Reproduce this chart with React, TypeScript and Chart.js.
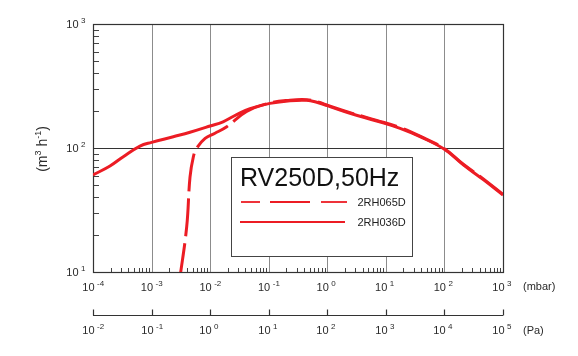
import React, { useEffect, useRef } from "react";
import { Chart, registerables } from "chart.js";
Chart.register(...registerables);

// Pumping speed (m3/h) vs inlet pressure (mbar)
const pressure2RH036D = [1e-4, 1.95e-4, 3.29e-4, 6.34e-4, 1e-3, 2.35e-3, 4.53e-3, 1e-2, 0.0166, 0.0284, 0.0479, 0.105, 0.231, 0.446, 0.66, 1, 2.44, 6.98, 17.5, 38.3, 100, 210, 461, 1000];
const speed2RH036D = [60.6, 71.6, 85.1, 103.7, 111, 123.3, 133.9, 150.4, 162.8, 186, 208, 229, 240.6, 242.5, 233.8, 219.5, 190.5, 165.2, 144.2, 123.4, 97.7, 73.2, 55.6, 41.8];

const pressure2RH065D = [3.0e-3, 3.98e-3, 4.53e-3, 5.16e-3, 5.88e-3, 8.2e-3, 0.0121, 0.0192, 0.042, 0.105, 0.231, 0.446, 0.66, 1, 2.44, 6.98, 17.5, 38.3, 100, 210, 461, 1000];
const speed2RH065D = [8.5, 23.2, 58.3, 84.6, 99.6, 119.7, 131.6, 148.6, 197, 231, 243, 245, 236, 222, 193, 167, 146, 124.5, 98.5, 74, 56.4, 42.3];

const mbarDecades = [-4, -3, -2, -1, 0, 1, 2, 3];
const paDecades = [-2, -1, 0, 1, 2, 3, 4, 5];
const speedDecades = [1, 2, 3];
const chartTitle = "RV250D,50Hz";
const seriesNames = ["2RH065D", "2RH036D"];
const xUnit = "(mbar)";
const paUnit = "(Pa)";

const RED = "#ec1c24";
const FONT = "'Liberation Sans', Arial, sans-serif";

function drawPow(ctx: CanvasRenderingContext2D, exp: number, baseRight: number, baseline: number) {
  ctx.textAlign = "right";
  ctx.font = `11px ${FONT}`;
  ctx.fillText("10", baseRight, baseline);
  ctx.textAlign = "left";
  ctx.font = `8px ${FONT}`;
  ctx.fillText(String(exp), baseRight + 2.5, baseline - 5.5);
}

const decorPlugin = {
  id: "decor",
  beforeDatasetsDraw(chart: any) {
    const ctx: CanvasRenderingContext2D = chart.ctx;
    const xs = chart.scales.x;
    const ys = chart.scales.y;
    const { left, right, top, bottom } = chart.chartArea;
    ctx.save();
    ctx.strokeStyle = "#8c8c8c";
    ctx.lineWidth = 1;
    mbarDecades.forEach((e) => {
      const px = Math.round(xs.getPixelForValue(Math.pow(10, e))) + 0.5;
      if (px <= left + 1 || px >= right - 1) return;
      ctx.beginPath();
      ctx.moveTo(px, top);
      ctx.lineTo(px, bottom);
      ctx.stroke();
    });
    ctx.strokeStyle = "#333";
    const hy = Math.round(ys.getPixelForValue(100)) + 0.5;
    ctx.beginPath();
    ctx.moveTo(left, hy);
    ctx.lineTo(right, hy);
    ctx.stroke();
    ctx.strokeStyle = "#444";
    for (let e = 1; e < 3; e++) {
      for (let k = 2; k <= 9; k++) {
        const py = Math.round(ys.getPixelForValue(k * Math.pow(10, e))) + 0.5;
        ctx.beginPath();
        ctx.moveTo(left, py);
        ctx.lineTo(left + 6, py);
        ctx.stroke();
      }
    }
    for (let e = -4; e < 3; e++) {
      for (let k = 2; k <= 9; k++) {
        const px = Math.round(xs.getPixelForValue(k * Math.pow(10, e))) + 0.5;
        ctx.beginPath();
        ctx.moveTo(px, bottom);
        ctx.lineTo(px, bottom - 4);
        ctx.stroke();
      }
    }
    ctx.strokeStyle = "#333";
    ctx.lineWidth = 1.2;
    ctx.strokeRect(Math.round(left) + 0.5, Math.round(top) + 0.5, Math.round(right - left), Math.round(bottom - top));
    ctx.restore();
  },
  afterDatasetsDraw(chart: any) {
    const ctx: CanvasRenderingContext2D = chart.ctx;
    const xs = chart.scales.x;
    const ys = chart.scales.y;
    const { left, right, bottom } = chart.chartArea;
    ctx.save();
    ctx.fillStyle = "#2a2a2a";
    ctx.textBaseline = "alphabetic";
    mbarDecades.forEach((e) => {
      const px = xs.getPixelForValue(Math.pow(10, e));
      drawPow(ctx, e, px + 1.5, bottom + 19);
    });
    ctx.font = `11px ${FONT}`;
    ctx.textAlign = "left";
    ctx.fillText(xUnit, 523, bottom + 18);
    const ay = 315.5;
    ctx.strokeStyle = "#333";
    ctx.lineWidth = 1.2;
    ctx.beginPath();
    ctx.moveTo(left, ay);
    ctx.lineTo(right, ay);
    ctx.stroke();
    paDecades.forEach((e) => {
      const px = Math.round(xs.getPixelForValue(Math.pow(10, e - 2))) + 0.5;
      ctx.beginPath();
      ctx.moveTo(px, ay);
      ctx.lineTo(px, ay - 6);
      ctx.stroke();
      drawPow(ctx, e, px + 1, 334);
    });
    ctx.font = `11px ${FONT}`;
    ctx.textAlign = "left";
    ctx.fillText(paUnit, 523, 334);
    speedDecades.forEach((e) => {
      const py = ys.getPixelForValue(Math.pow(10, e));
      drawPow(ctx, e, 78.5, py + 4);
    });
    ctx.save();
    ctx.translate(47, 149);
    ctx.rotate(-Math.PI / 2);
    ctx.textAlign = "left";
    const parts: [string, number, number][] = [["(m", 14, 0], ["3", 9, -6], [" h", 14, 0], ["-1", 9, -6], [")", 14, 0]];
    let total = 0;
    parts.forEach(([t, s]) => { ctx.font = `${s}px ${FONT}`; total += ctx.measureText(t).width; });
    let cx = -total / 2;
    parts.forEach(([t, s, dy]) => {
      ctx.font = `${s}px ${FONT}`;
      ctx.fillText(t, cx, dy);
      cx += ctx.measureText(t).width;
    });
    ctx.restore();
    ctx.fillStyle = "#fff";
    ctx.fillRect(231, 157, 181, 99);
    ctx.strokeStyle = "#444";
    ctx.lineWidth = 1;
    ctx.strokeRect(231.5, 157.5, 181, 99);
    ctx.fillStyle = "#111";
    ctx.font = `25px ${FONT}`;
    ctx.textAlign = "left";
    ctx.fillText(chartTitle, 240, 185.5);
    ctx.strokeStyle = RED;
    ctx.lineWidth = 1.8;
    [[241, 260], [270, 310], [321, 347]].forEach(([a, b]) => {
      ctx.beginPath();
      ctx.moveTo(a, 202);
      ctx.lineTo(b, 202);
      ctx.stroke();
    });
    ctx.beginPath();
    ctx.moveTo(240, 222);
    ctx.lineTo(345, 222);
    ctx.stroke();
    ctx.fillStyle = "#222";
    ctx.font = `11px ${FONT}`;
    ctx.fillText(seriesNames[0], 357.5, 206);
    ctx.fillText(seriesNames[1], 357.5, 226);
    ctx.restore();
  },
};

export default function App() {
  const ref = useRef<HTMLCanvasElement | null>(null);
  useEffect(() => {
    if (!ref.current) return;
    const chart = new Chart(ref.current, {
      type: "line",
      data: {
        datasets: [
          {
            label: seriesNames[1],
            data: pressure2RH036D.map((p, i) => ({ x: p, y: speed2RH036D[i] })),
            borderColor: RED,
            borderWidth: 3,
            pointRadius: 0,
            tension: 0.4,
            fill: false,
          },
          {
            label: seriesNames[0],
            data: pressure2RH065D.map((p, i) => ({ x: p, y: speed2RH065D[i] })),
            borderColor: RED,
            borderWidth: 3,
            borderDash: [38, 7],
            pointRadius: 0,
            tension: 0.4,
            fill: false,
          },
        ],
      },
      options: {
        animation: false,
        responsive: false,
        events: [],
        layout: { padding: { left: 0, top: 24, right: 75, bottom: 0 } },
        plugins: { legend: { display: false }, tooltip: { enabled: false } },
        scales: {
          x: {
            type: "logarithmic",
            min: 1e-4,
            max: 1e3,
            grid: { display: false },
            border: { display: false },
            ticks: { display: false },
            afterFit: (s: any) => { s.height = 84; },
          },
          y: {
            type: "logarithmic",
            min: 10,
            max: 1000,
            grid: { display: false },
            border: { display: false },
            ticks: { display: false },
            afterFit: (s: any) => { s.width = 93; },
          },
        },
      },
      plugins: [decorPlugin],
    });
    return () => chart.destroy();
  }, []);
  return (
    <div style={{ position: "absolute", left: 0, top: 0, width: 578, height: 356, background: "#fff" }}>
      <canvas ref={ref} width={578} height={356} style={{ display: "block" }} />
    </div>
  );
}
